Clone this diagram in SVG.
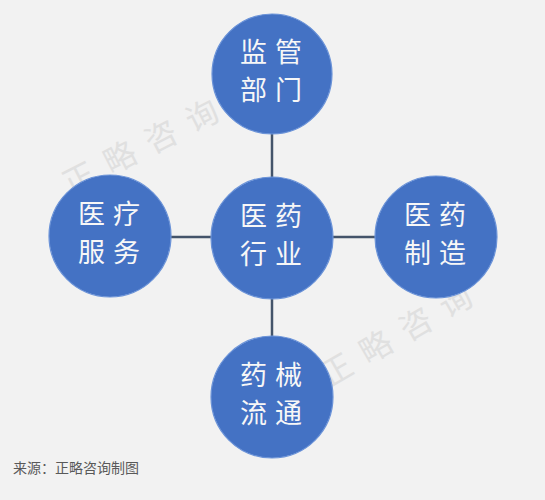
<svg xmlns="http://www.w3.org/2000/svg" width="545" height="500" viewBox="0 0 545 500">
<style>
.node circle{fill:#4472c4;stroke:#6b93d8;stroke-width:1.2}
.node text{font-family:"Noto Sans CJK SC","Noto Sans",sans-serif;font-size:27px;fill:#f7f7f7;text-anchor:middle;letter-spacing:8px}
.conn line{stroke:#44546a;stroke-width:2.5}
.wm{font-family:"Noto Sans CJK SC",sans-serif;font-size:32px;fill:#e0e0e0;letter-spacing:14px}
.src{font-family:"Noto Sans CJK SC",sans-serif;font-size:14px;fill:#595959}
</style>
<rect width="545" height="500" fill="#f2f2f2"/>
<text class="wm" transform="translate(70,196) rotate(-27)">正略咨询</text>
<text class="wm" transform="translate(328,388) rotate(-30)">正略咨询</text>
<g class="conn" id="connectors">
<line x1="272" y1="130" x2="272" y2="180"/>
<line x1="272" y1="295" x2="272" y2="340"/>
<line x1="168" y1="237" x2="214" y2="237"/>
<line x1="330" y1="237" x2="377" y2="237"/>
</g>
<g class="node" id="jianguan"><circle cx="272" cy="74" r="60"/><text x="275" y="62">监管</text><text x="275" y="100">部门</text></g>
<g class="node" id="yiliao"><circle cx="110" cy="236" r="61"/><text x="113" y="224">医疗</text><text x="113" y="262">服务</text></g>
<g class="node" id="hangye"><circle cx="272" cy="238" r="61"/><text x="275" y="226">医药</text><text x="275" y="264">行业</text></g>
<g class="node" id="zhizao"><circle cx="436" cy="237" r="61"/><text x="439" y="225">医药</text><text x="439" y="263">制造</text></g>
<g class="node" id="liutong"><circle cx="272" cy="397" r="61"/><text x="275" y="385">药械</text><text x="275" y="423">流通</text></g>
<text class="src" x="13" y="473">来源：正略咨询制图</text>
</svg>
